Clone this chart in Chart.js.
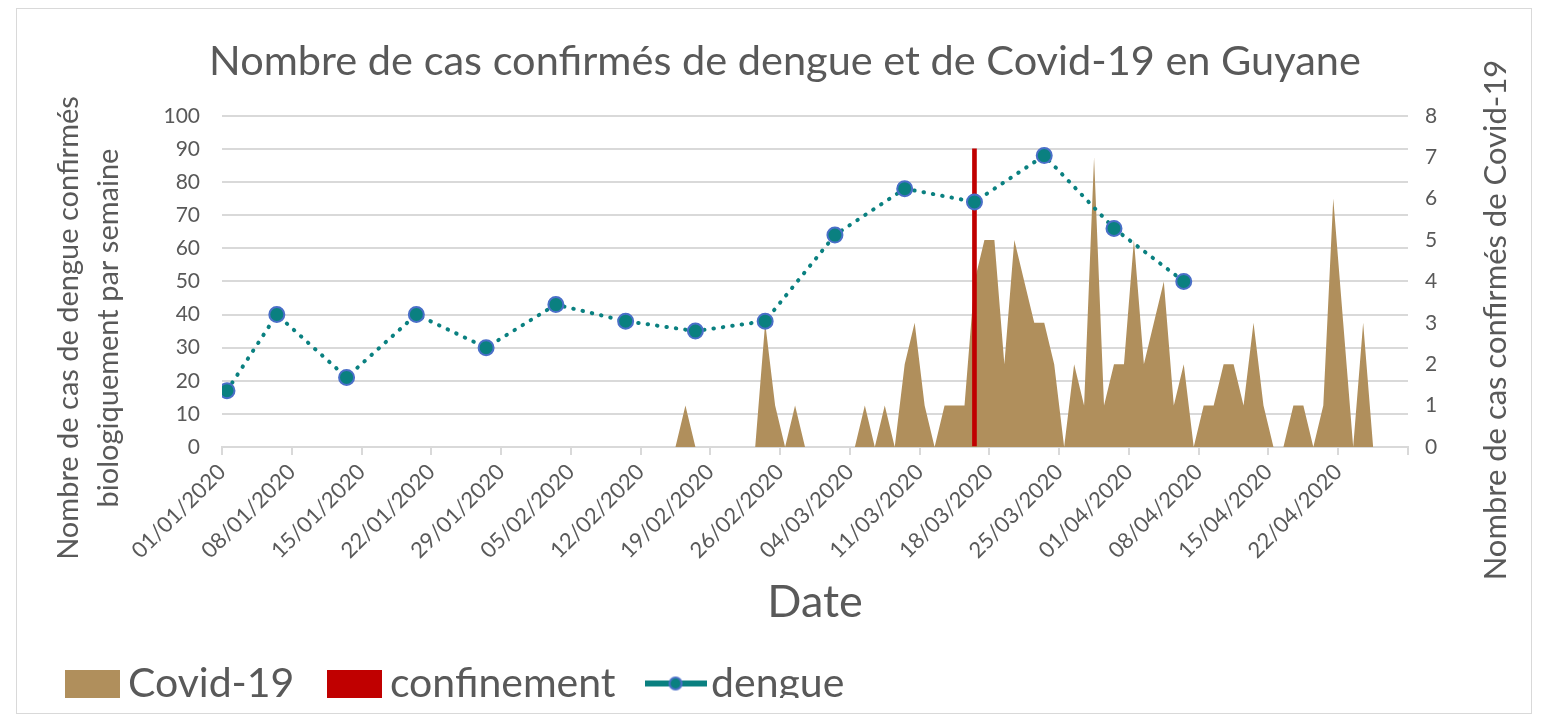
<!DOCTYPE html>
<html>
<head>
<meta charset="utf-8">
<title>Nombre de cas confirmés de dengue et de Covid-19 en Guyane</title>
<script src="https://cdn.jsdelivr.net/npm/chart.js"></script>
<style>
  body { margin: 0; background: #fff; }
  #frame { position: absolute; left: 16px; top: 8px; width: 1514px; height: 704px; border: 1px solid #d9d9d9; }
  #myChart { position: absolute; left: 0; top: 0; }
</style>
</head>
<body>
<div id="frame"></div>
<canvas id="myChart" width="1547" height="721"></canvas>

<script>
    // x axis runs in days from 01/01/2020 (day 0)
    var startDate = '01/01/2020';
    var axisDays = 119;

    // dengue: confirmed cases per week (left axis)
    var dengueDates = ['01/01/2020', '06/01/2020', '13/01/2020', '20/01/2020', '27/01/2020',
                       '03/02/2020', '10/02/2020', '17/02/2020', '24/02/2020', '02/03/2020',
                       '09/03/2020', '16/03/2020', '23/03/2020', '30/03/2020', '06/04/2020'];
    var dengueCases = [17, 40, 21, 40, 30, 43, 38, 35, 38, 64, 78, 74, 88, 66, 50];

    // Covid-19: confirmed cases per day from 01/01/2020 (right axis), one row per week
    var covidCases = [
        0, 0, 0, 0, 0, 0, 0,
        0, 0, 0, 0, 0, 0, 0,
        0, 0, 0, 0, 0, 0, 0,
        0, 0, 0, 0, 0, 0, 0,
        0, 0, 0, 0, 0, 0, 0,
        0, 0, 0, 0, 0, 0, 0,
        0, 0, 0, 0, 1, 0, 0,
        0, 0, 0, 0, 0, 3, 1,
        0, 1, 0, 0, 0, 0, 0,
        0, 1, 0, 1, 0, 2, 3,
        1, 0, 1, 1, 1, 4, 5,
        5, 2, 5, 4, 3, 3, 2,
        0, 2, 1, 7, 1, 2, 2,
        5, 2, 3, 4, 1, 2, 0,
        1, 1, 2, 2, 1, 3, 1,
        0, 0, 1, 1, 0, 1, 6,
        3, 0, 3, 0
    ];

    // start of the lockdown (bar height on the left axis)
    var confinementDate = '16/03/2020';
    var confinementHeight = 90;

    var textColor = '#595959';
    var gridColor = '#d9d9d9';
    var covidColor = '#b08f5c';
    var confinementColor = '#c00000';
    var dengueColor = '#0a8080';
    var dengueBorder = '#4a6fc8';

    var padLeft = 32.5, padRight = 9.5;

    function toDay(str) {
        var p = str.split('/');
        var p0 = startDate.split('/');
        return (Date.UTC(+p[2], p[1] - 1, +p[0]) - Date.UTC(+p0[2], p0[1] - 1, +p0[0])) / 86400000;
    }
    function dayLabel(day) {
        var p0 = startDate.split('/');
        var d = new Date(Date.UTC(+p0[2], p0[1] - 1, +p0[0] + day));
        var dd = ('0' + d.getUTCDate()).slice(-2);
        var mm = ('0' + (d.getUTCMonth() + 1)).slice(-2);
        return dd + '/' + mm + '/' + d.getUTCFullYear();
    }

    // points sit in the middle of their day
    var covidPoints = covidCases.map(function (v, i) { return { x: i + 0.5, y: v }; });
    var denguePoints = dengueCases.map(function (v, i) { return { x: toDay(dengueDates[i]) + 0.5, y: v }; });
    var confinementPoints = [{ x: toDay(confinementDate) + 0.5, y: confinementHeight }];

    function swatch(w, h, draw) {
        var c = document.createElement('canvas');
        c.width = w; c.height = h;
        draw(c.getContext('2d'), w, h);
        return c;
    }
    var covidSwatch = swatch(55, 28, function (g, w, h) { g.fillStyle = covidColor; g.fillRect(0, 0, w, h); });
    var confinementSwatch = swatch(55, 28, function (g, w, h) { g.fillStyle = confinementColor; g.fillRect(0, 0, w, h); });
    var dengueSwatch = swatch(62, 18, function (g, w, h) {
        g.fillStyle = dengueColor;
        g.fillRect(0, h / 2 - 3, w, 6);
        g.beginPath();
        g.arc(w / 2, h / 2, 6, 0, Math.PI * 2);
        g.fill();
        g.lineWidth = 2;
        g.strokeStyle = dengueBorder;
        g.stroke();
    });

    // y axis titles (the right one reads bottom to top, like the original)
    var axisTitles = {
        id: 'axisTitles',
        afterDraw: function (chart) {
            var ctx = chart.ctx;
            ctx.save();
            ctx.fillStyle = textColor;
            ctx.font = '29px Lato';
            ctx.textAlign = 'center';
            ctx.textBaseline = 'middle';
            ctx.translate(69, 328);
            ctx.rotate(-Math.PI / 2);
            ctx.fillText('Nombre de cas de dengue confirmés', 0, 0);
            ctx.fillText('biologiquement par semaine', 0, 40);
            ctx.restore();

            ctx.save();
            ctx.fillStyle = textColor;
            ctx.font = '31px Lato';
            ctx.textAlign = 'center';
            ctx.textBaseline = 'middle';
            ctx.translate(1496, 320);
            ctx.rotate(-Math.PI / 2);
            ctx.fillText('Nombre de cas confirmés de Covid-19', 0, 0);
            ctx.restore();
        }
    };

    Chart.defaults.font.family = 'Lato';
    Chart.defaults.color = textColor;

    var ctx = document.getElementById('myChart').getContext('2d');
    var myChart = new Chart(ctx, {
        type: 'line',
        data: {
            datasets: [{
                label: 'Covid-19',
                data: covidPoints,
                yAxisID: 'y1',
                fill: 'origin',
                backgroundColor: covidColor,
                borderWidth: 0,
                pointRadius: 0,
                tension: 0,
                order: 3
            }, {
                type: 'bar',
                label: 'confinement',
                data: confinementPoints,
                yAxisID: 'y',
                backgroundColor: confinementColor,
                barThickness: 4,
                order: 2
            }, {
                label: 'dengue',
                data: denguePoints,
                yAxisID: 'y',
                borderColor: dengueColor,
                borderWidth: 4,
                borderDash: [0.5, 9],
                borderCapStyle: 'round',
                pointRadius: 7.5,
                pointBackgroundColor: dengueColor,
                pointBorderColor: dengueBorder,
                pointBorderWidth: 2,
                tension: 0,
                order: 1
            }]
        },
        options: {
            responsive: false,
            animation: false,
            layout: { padding: { left: padLeft, right: padRight, top: 0, bottom: 23 } },
            plugins: {
                title: {
                    display: true,
                    text: 'Nombre de cas confirmés de dengue et de Covid-19 en Guyane',
                    color: textColor,
                    font: { size: 41.5, weight: 'normal', lineHeight: 1.2 },
                    padding: { top: 37, bottom: 29 }
                },
                legend: {
                    position: 'bottom',
                    align: 'start',
                    maxHeight: 80,
                    labels: {
                        usePointStyle: true,
                        pointStyleWidth: 30,
                        padding: 45,
                        color: textColor,
                        font: { size: 41 },
                        generateLabels: function () {
                            return [
                                { text: 'Covid-19', pointStyle: covidSwatch, lineWidth: 0, datasetIndex: 0, fontColor: textColor },
                                { text: 'confinement', pointStyle: confinementSwatch, lineWidth: 0, datasetIndex: 1, fontColor: textColor },
                                { text: 'dengue', pointStyle: dengueSwatch, lineWidth: 0, datasetIndex: 2, fontColor: textColor }
                            ];
                        }
                    }
                },
                tooltip: { enabled: false }
            },
            scales: {
                x: {
                    type: 'linear',
                    min: 0,
                    max: axisDays,
                    offset: false,
                    grid: { drawOnChartArea: false, drawTicks: true, tickLength: 8, color: gridColor, lineWidth: 2, offset: false },
                    border: { display: true, color: gridColor, width: 2 },
                    ticks: {
                        stepSize: 7,
                        autoSkip: false,
                        minRotation: 45,
                        maxRotation: 45,
                        padding: 4,
                        color: textColor,
                        font: { size: 22 },
                        callback: function (value) { return value >= axisDays ? '' : dayLabel(value); }
                    },
                    title: {
                        display: true,
                        text: 'Date',
                        color: textColor,
                        font: { size: 45, lineHeight: 0.7 },
                        padding: 0
                    },
                    afterFit: function (axis) { axis.height = 171; }
                },
                y: {
                    position: 'left',
                    min: 0,
                    max: 100,
                    grid: { color: gridColor, lineWidth: 2, drawTicks: false },
                    border: { display: false },
                    ticks: { stepSize: 10, padding: 22, color: textColor, font: { size: 21 } },
                    afterFit: function (axis) { axis.width = 222 - padLeft; }
                },
                y1: {
                    position: 'right',
                    min: 0,
                    max: 8,
                    grid: { drawOnChartArea: false, drawTicks: false },
                    border: { display: false },
                    ticks: { stepSize: 1, padding: 17, color: textColor, font: { size: 21 } },
                    afterFit: function (axis) { axis.width = 1547 - padRight - 1408; }
                }
            }
        },
        plugins: [axisTitles]
    });
</script>
</body>
</html>
